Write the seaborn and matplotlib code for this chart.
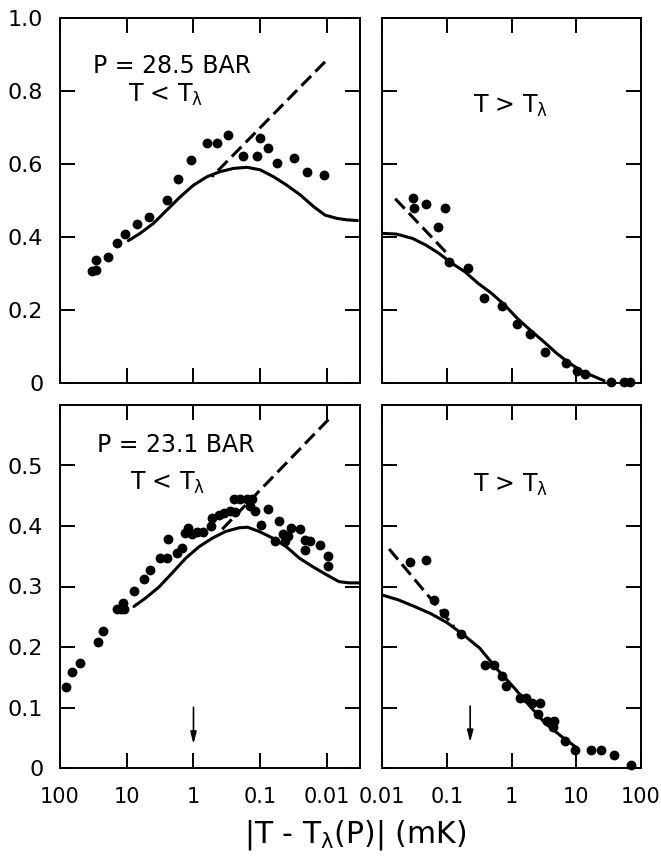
import matplotlib
matplotlib.use("Agg")
import matplotlib.pyplot as plt
from matplotlib.ticker import NullLocator
import seaborn as sns

# ----------------------
# Data (|T - T_lambda| in mK)
# ----------------------

# P = 28.5 bar, T < T_lambda
tl_x = [33, 29, 29, 18.8, 14.1, 10.6, 7.1, 4.7, 2.5, 1.68, 1.1, 0.63, 0.44, 0.30,
        0.18, 0.11, 0.10, 0.077, 0.056, 0.031, 0.020, 0.011]
tl_y = [0.308, 0.310, 0.338, 0.344, 0.384, 0.407, 0.436, 0.456, 0.501, 0.558, 0.611,
        0.657, 0.657, 0.679, 0.623, 0.623, 0.672, 0.645, 0.602, 0.616, 0.579, 0.570]
tl_fit_x = [9.46, 6.3, 4.0, 2.5, 1.58, 1.0, 0.63, 0.40, 0.25, 0.158, 0.1, 0.063,
            0.040, 0.025, 0.0158, 0.0107, 0.0071, 0.005, 0.0035]
tl_fit_y = [0.390, 0.410, 0.437, 0.474, 0.510, 0.542, 0.565, 0.579, 0.588, 0.591,
            0.584, 0.565, 0.542, 0.515, 0.483, 0.460, 0.451, 0.447, 0.445]
tl_dash_x = [0.53, 0.0107]
tl_dash_y = [0.565, 0.880]

# P = 28.5 bar, T > T_lambda
tr_x = [0.030, 0.031, 0.047, 0.095, 0.074, 0.107, 0.21, 0.37, 0.71, 1.23, 1.9, 3.3,
        6.9, 10.4, 13.8, 34, 54, 68]
tr_y = [0.506, 0.479, 0.490, 0.479, 0.428, 0.332, 0.314, 0.232, 0.211, 0.162, 0.133,
        0.086, 0.056, 0.034, 0.025, 0.004, 0.004, 0.004]
tr_fit_x = [0.01, 0.0167, 0.0297, 0.0475, 0.076, 0.12, 0.19, 0.305, 0.49, 0.78, 1.23,
            1.95, 3.16, 5.0, 7.9, 12.6, 20, 27]
tr_fit_y = [0.410, 0.408, 0.396, 0.378, 0.355, 0.328, 0.305, 0.273, 0.246, 0.214,
            0.177, 0.145, 0.113, 0.081, 0.054, 0.031, 0.016, 0.006]
tr_dash_x = [0.016, 0.105]
tr_dash_y = [0.505, 0.352]

# P = 23.1 bar, T < T_lambda
bl_x = [81, 67, 50, 27, 23, 14, 12.3, 11.0, 11.3, 7.7, 5.5, 4.5, 3.2, 2.5, 2.38, 1.78,
        1.5, 1.34, 1.19, 1.06, 0.89, 0.71, 0.54, 0.53, 0.42, 0.355, 0.28, 0.237, 0.25,
        0.2, 0.158, 0.133, 0.141, 0.119, 0.097, 0.076, 0.060, 0.052, 0.046, 0.043,
        0.035, 0.038, 0.025, 0.021, 0.021, 0.0178, 0.0129, 0.0095, 0.0095]
bl_y = [0.134, 0.158, 0.173, 0.209, 0.227, 0.262, 0.262, 0.262, 0.273, 0.292, 0.312,
        0.328, 0.347, 0.347, 0.379, 0.355, 0.364, 0.389, 0.397, 0.386, 0.390, 0.390,
        0.400, 0.413, 0.418, 0.422, 0.424, 0.423, 0.444, 0.445, 0.444, 0.445, 0.433,
        0.424, 0.402, 0.428, 0.375, 0.409, 0.386, 0.375, 0.397, 0.383, 0.395, 0.377,
        0.361, 0.375, 0.369, 0.351, 0.334]
bl_fit_x = [7.8, 5.2, 3.3, 2.1, 1.30, 0.82, 0.52, 0.33, 0.207, 0.155, 0.104, 0.065,
            0.041, 0.026, 0.0165, 0.0104, 0.0066, 0.0047, 0.0033]
bl_fit_y = [0.267, 0.281, 0.299, 0.322, 0.347, 0.366, 0.380, 0.391, 0.397, 0.398,
            0.391, 0.380, 0.366, 0.347, 0.333, 0.320, 0.308, 0.306, 0.306]
bl_dash_x = [0.376, 0.0095]
bl_dash_y = [0.394, 0.576]

# P = 23.1 bar, T > T_lambda
br_x = [0.027, 0.048, 0.063, 0.091, 0.166, 0.39, 0.53, 0.72, 0.83, 1.35, 1.70, 2.1,
        2.8, 2.6, 3.5, 4.6, 4.4, 6.7, 9.6, 17, 24, 38, 69]
br_y = [0.340, 0.344, 0.277, 0.257, 0.221, 0.171, 0.171, 0.152, 0.136, 0.115, 0.115,
        0.107, 0.107, 0.090, 0.078, 0.078, 0.067, 0.045, 0.029, 0.030, 0.030, 0.022,
        0.005]
br_fit_x = [0.01, 0.0178, 0.0316, 0.057, 0.102, 0.182, 0.324, 0.58, 1.05, 1.86, 3.3,
            5.95, 10.0]
br_fit_y = [0.286, 0.278, 0.267, 0.255, 0.240, 0.220, 0.198, 0.165, 0.135, 0.104,
            0.074, 0.052, 0.034]
br_dash_x = [0.0129, 0.129]
br_dash_y = [0.362, 0.234]

# tick labels
left_ticks = [100, 10, 1, 0.1, 0.01]
left_labels = ["100", "10", "1", "0.1", "0.01"]
right_ticks = [0.01, 0.1, 1, 10, 100]
right_labels = ["0.01", "0.1", "1", "10", "100"]
top_yticks = [0, 0.2, 0.4, 0.6, 0.8, 1.0]
top_ylabels = ["0", "0.2", "0.4", "0.6", "0.8", "1.0"]
bot_yticks = [0, 0.1, 0.2, 0.3, 0.4, 0.5]
bot_ylabels = ["0", "0.1", "0.2", "0.3", "0.4", "0.5"]

# ----------------------
# Style
# ----------------------
sns.set_style("ticks")
plt.rcParams['font.family'] = ['DejaVu Sans']
plt.rcParams['mathtext.fontset'] = 'dejavusans'
plt.rcParams['axes.edgecolor'] = 'black'
plt.rcParams['text.color'] = 'black'
plt.rcParams['xtick.color'] = 'black'
plt.rcParams['ytick.color'] = 'black'

fig = plt.figure(figsize=(6.61, 8.66), dpi=100)

W, H = 661, 866
ax_tl = fig.add_axes([60 / W, 1 - 383 / H, 300 / W, 365 / H])
ax_tr = fig.add_axes([382 / W, 1 - 383 / H, 259 / W, 365 / H])
ax_bl = fig.add_axes([60 / W, 1 - 768 / H, 300 / W, 363 / H])
ax_br = fig.add_axes([382 / W, 1 - 768 / H, 259 / W, 363 / H])

dash = (0, (4.5, 2.0))


def draw(ax, px, py, fx, fy, dx, dy):
    sns.lineplot(x=fx, y=fy, ax=ax, color='black', lw=2.2, estimator=None,
                 errorbar=None)
    sns.lineplot(x=dx, y=dy, ax=ax, color='black', lw=2.2, linestyle=dash,
                 estimator=None, errorbar=None)
    sns.scatterplot(x=px, y=py, ax=ax, color='black', s=50, linewidth=0,
                    clip_on=False, zorder=5)


draw(ax_tl, tl_x, tl_y, tl_fit_x, tl_fit_y, tl_dash_x, tl_dash_y)
draw(ax_tr, tr_x, tr_y, tr_fit_x, tr_fit_y, tr_dash_x, tr_dash_y)
draw(ax_bl, bl_x, bl_y, bl_fit_x, bl_fit_y, bl_dash_x, bl_dash_y)
draw(ax_br, br_x, br_y, br_fit_x, br_fit_y, br_dash_x, br_dash_y)

for ax in [ax_tl, ax_tr, ax_bl, ax_br]:
    ax.set_xscale('log')
    ax.xaxis.set_minor_locator(NullLocator())
    ax.yaxis.set_minor_locator(NullLocator())
    ax.tick_params(direction='in', length=11, width=1.4, top=True, right=True)
    ax.tick_params(axis='x', labelsize=15, pad=14)
    ax.tick_params(axis='y', labelsize=16, pad=12)
    for s in ax.spines.values():
        s.set_linewidth(1.4)
    ax.set_xlabel("")
    ax.set_ylabel("")

for ax in [ax_tl, ax_bl]:
    ax.set_xlim(100, 0.0032)
    ax.set_xticks(left_ticks)
    ax.set_xticklabels(left_labels)
for ax in [ax_tr, ax_br]:
    ax.set_xlim(0.01, 100)
    ax.set_xticks(right_ticks)
    ax.set_xticklabels(right_labels)

for ax in [ax_tl, ax_tr]:
    ax.set_ylim(0, 1.0)
    ax.set_yticks(top_yticks)
    ax.set_yticklabels(top_ylabels)
    ax.tick_params(axis='x', labelbottom=False)
for ax in [ax_bl, ax_br]:
    ax.set_ylim(0, 0.6)
    ax.set_yticks(bot_yticks)
    ax.set_yticklabels(bot_ylabels)
for ax in [ax_tr, ax_br]:
    ax.tick_params(axis='y', labelleft=False)

# Annotations
ax_tl.text(0.11, 0.849, "P = 28.5 BAR", transform=ax_tl.transAxes, fontsize=17,
           va='baseline')
ax_tl.text(0.227, 0.770, r"T < T$_{\mathrm{\lambda}}$", transform=ax_tl.transAxes,
           fontsize=17, va='baseline')
ax_tr.text(0.35, 0.740, r"T > T$_{\mathrm{\lambda}}$", transform=ax_tr.transAxes,
           fontsize=17, va='baseline')
ax_bl.text(0.123, 0.871, "P = 23.1 BAR", transform=ax_bl.transAxes, fontsize=17,
           va='baseline')
ax_bl.text(0.233, 0.766, r"T < T$_{\mathrm{\lambda}}$", transform=ax_bl.transAxes,
           fontsize=17, va='baseline')
ax_br.text(0.35, 0.761, r"T > T$_{\mathrm{\lambda}}$", transform=ax_br.transAxes,
           fontsize=17, va='baseline')

# Arrows
arrow = dict(arrowstyle='-|>,head_length=0.7,head_width=0.18', color='black', lw=1.2)
ax_bl.annotate("", xy=(1, 0.035), xytext=(1, 0.105), arrowprops=arrow)
ax_br.annotate("", xy=(0.23, 0.038), xytext=(0.23, 0.107), arrowprops=arrow)

# Axis title
fig.text(0.537, 0.0277, r"|T - T$_{\mathrm{\lambda}}$(P)| (mK)", fontsize=21.5,
         ha='center', va='baseline')

plt.savefig("out.png", dpi=100)
